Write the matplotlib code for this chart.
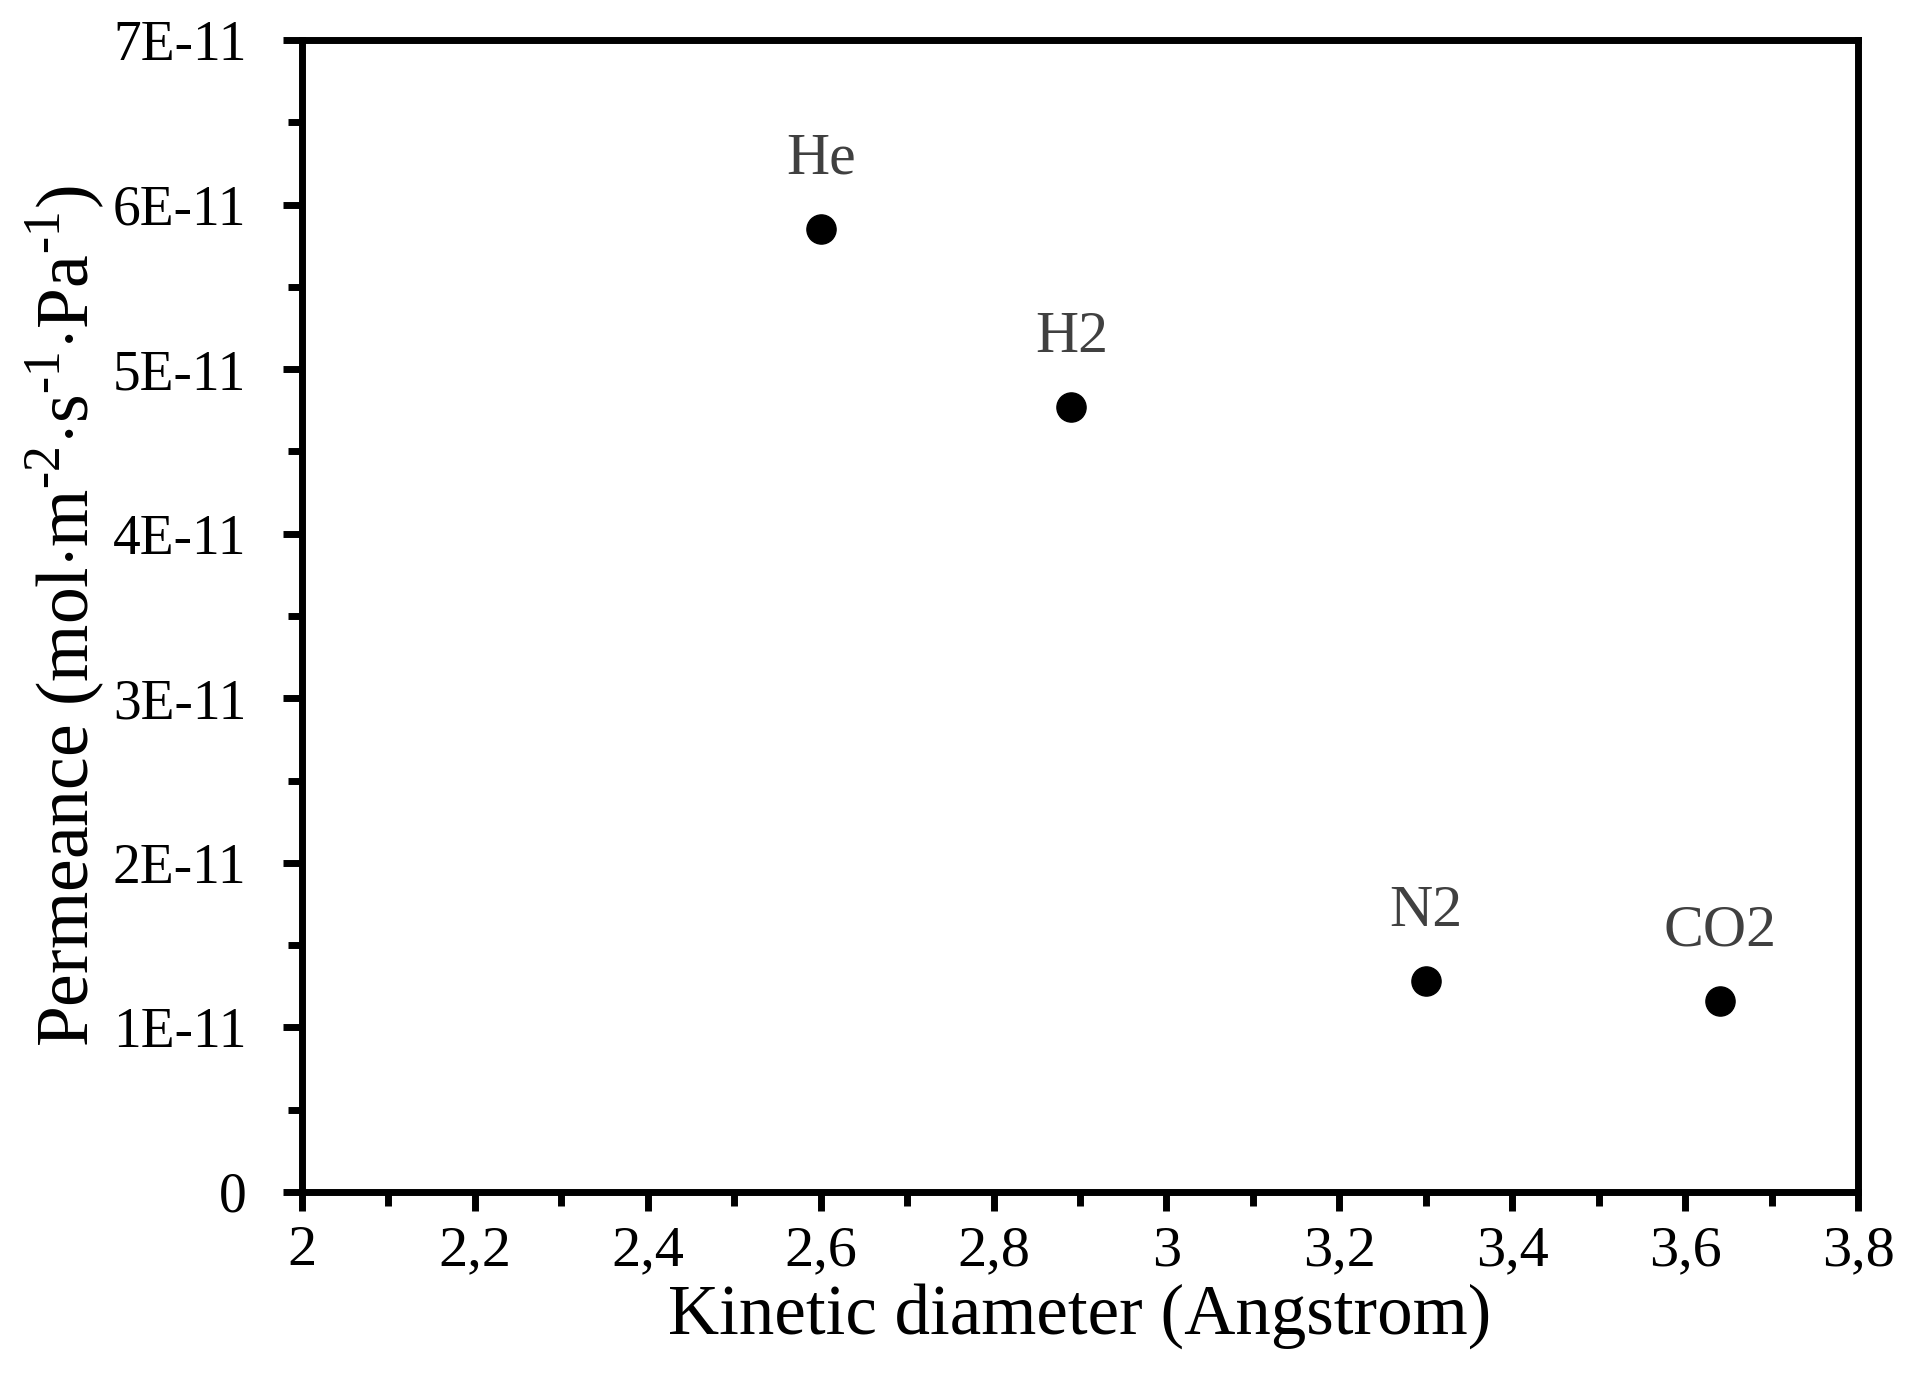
import matplotlib
matplotlib.use("Agg")
import matplotlib.pyplot as plt
from matplotlib.ticker import MultipleLocator, FuncFormatter

# gas permeance vs kinetic diameter
gases = ['He', 'H2', 'N2', 'CO2']
diameter = [2.60, 2.89, 3.30, 3.64]
permeance = [5.85e-11, 4.77e-11, 1.28e-11, 1.16e-11]

plt.rcParams['font.family'] = ['Liberation Serif', 'DejaVu Serif']
plt.rcParams['mathtext.fontset'] = 'custom'
plt.rcParams['mathtext.rm'] = 'Liberation Serif'

fig = plt.figure(figsize=(19.08, 13.92), dpi=100)
ax = fig.add_axes([0.1583, 0.1437, 0.9738 - 0.1583, 0.9713 - 0.1437])

ax.plot(diameter, permeance, 'o', color='black', markersize=21, linestyle='none')
for name, x, y in zip(gases, diameter, permeance):
    ax.annotate(name, (x, y), xytext=(0, 50), textcoords='offset points',
                ha='center', va='center', fontsize=43, color='#404040')

ax.set_xlim(2, 3.8)
ax.set_ylim(0, 7e-11)
ax.xaxis.set_major_locator(MultipleLocator(0.2))
ax.xaxis.set_minor_locator(MultipleLocator(0.1))
ax.yaxis.set_major_locator(MultipleLocator(1e-11))
ax.yaxis.set_minor_locator(MultipleLocator(0.5e-11))

def xfmt(v, pos):
    return ('%g' % round(v, 1)).replace('.', ',')

def yfmt(v, pos):
    n = int(round(v / 1e-11))
    return '0' if n == 0 else '%dE-11' % n

ax.xaxis.set_major_formatter(FuncFormatter(xfmt))
ax.yaxis.set_major_formatter(FuncFormatter(yfmt))

for s in ax.spines.values():
    s.set_linewidth(5)
ax.tick_params(which='major', direction='out', length=14, width=5)
ax.tick_params(which='minor', direction='out', length=10, width=5)
ax.tick_params(axis='x', which='major', labelsize=42, pad=10)
ax.tick_params(axis='y', which='major', labelsize=40, pad=26)

ax.set_xlabel('Kinetic diameter (Angstrom)', fontsize=51, labelpad=4)
ax.set_ylabel(r'Permeance (mol$\cdot$m$^{\text{-2}}$$\cdot$s$^{\text{-1}}$$\cdot$Pa$^{\text{-1}}$)',
              fontsize=53, labelpad=4)

fig.savefig('out.png', dpi=100)
